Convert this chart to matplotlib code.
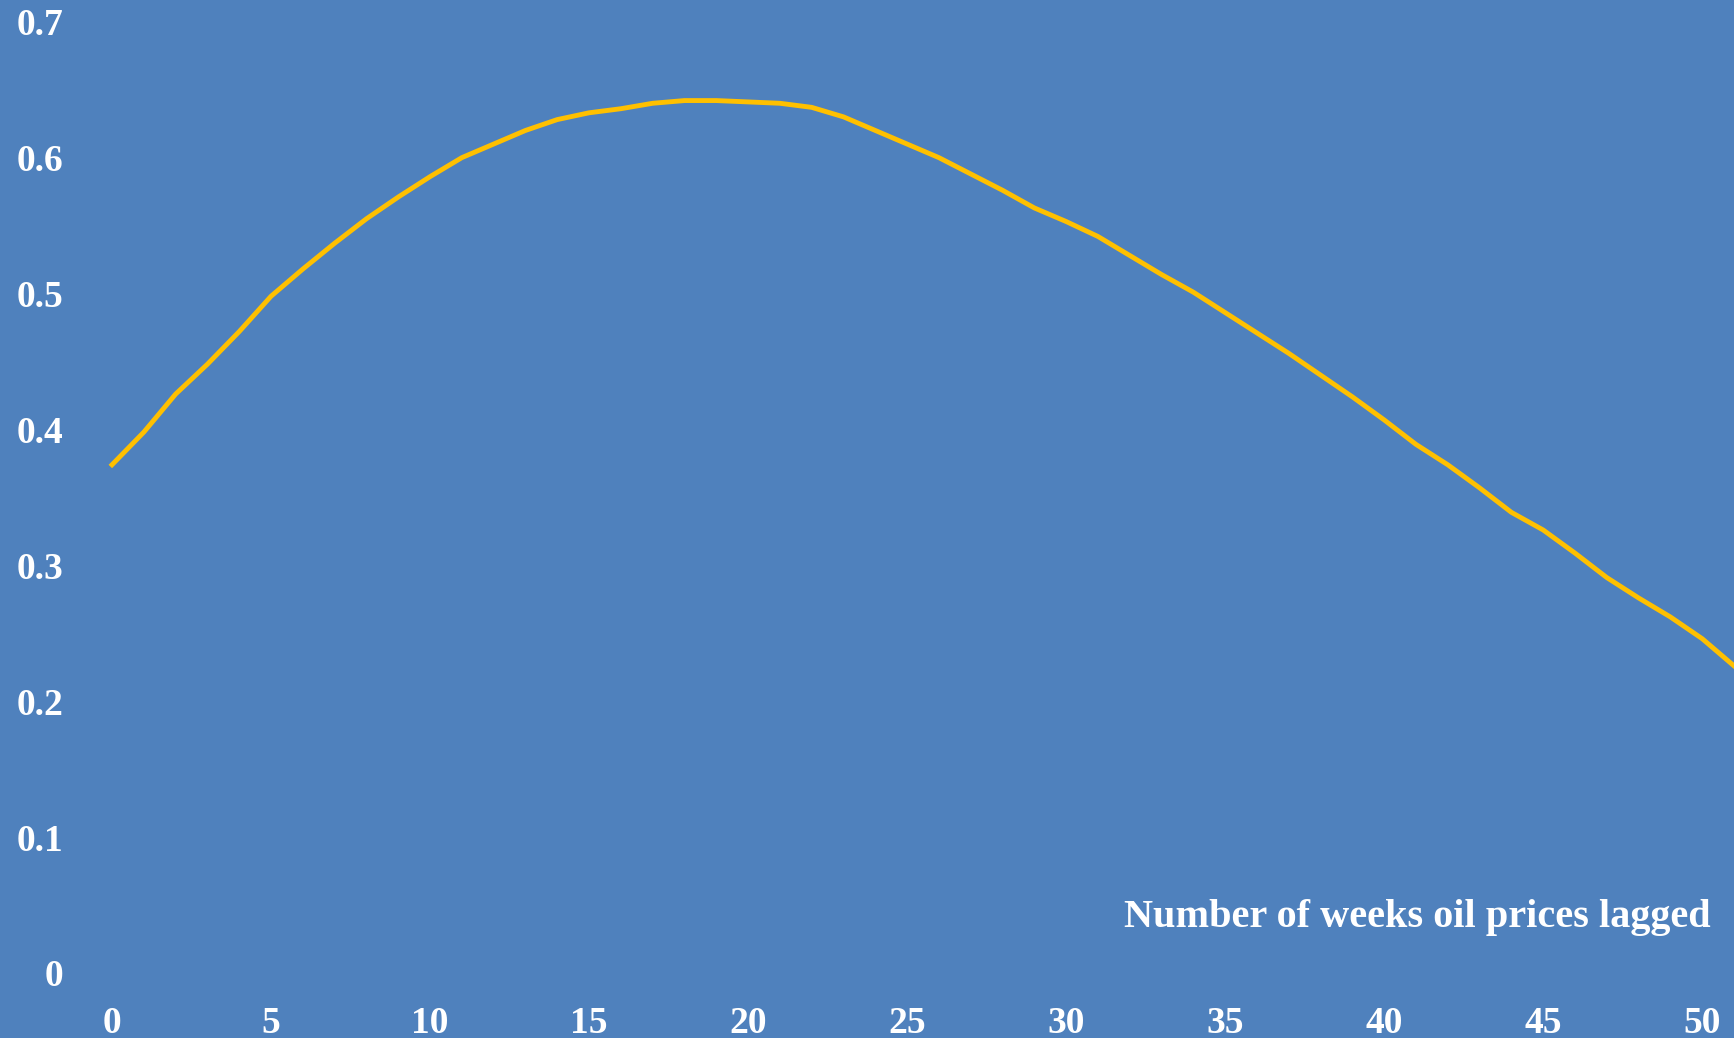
import matplotlib.pyplot as plt
import numpy as np

# weeks of lag vs correlation
weeks = list(range(0, 52))
corr = [0.374, 0.398, 0.426, 0.448, 0.472, 0.498, 0.518, 0.537, 0.555, 0.571,
        0.586, 0.600, 0.610, 0.620, 0.628, 0.633, 0.636, 0.640, 0.642, 0.642,
        0.641, 0.640, 0.637, 0.630, 0.620, 0.610, 0.600, 0.588, 0.576, 0.563,
        0.553, 0.542, 0.528, 0.514, 0.501, 0.486, 0.471, 0.456, 0.440, 0.424,
        0.407, 0.389, 0.374, 0.357, 0.339, 0.326, 0.309, 0.291, 0.276, 0.262,
        0.246, 0.226]
xticks = list(range(0, 51, 5))
yticks = [0, 0.1, 0.2, 0.3, 0.4, 0.5, 0.6, 0.7]
ytick_labels = ['0', '0.1', '0.2', '0.3', '0.4', '0.5', '0.6', '0.7']
xlabel = 'Number of weeks oil prices lagged'

bg = '#4F81BD'
plt.rcParams['font.family'] = ['Liberation Serif', 'DejaVu Serif']

W, H = 1734, 1038
fig = plt.figure(figsize=(W / 100, H / 100), dpi=100, facecolor=bg)
left_px, bottom_px = 70, 65
ax = fig.add_axes([left_px / W, bottom_px / H, 1 - left_px / W, 1 - bottom_px / H])
ax.set_facecolor(bg)

ax.plot(weeks, corr, color='#FFC000', lw=3.5, solid_joinstyle='round')

ax.set_xlim(-(112 - left_px) / 31.8, 51.0)
ax.set_ylim(0, 0.716)
ax.set_xticks(xticks)
ax.set_yticks(yticks)
ax.set_yticklabels(ytick_labels)
for s in ax.spines.values():
    s.set_visible(False)
ax.tick_params(length=0, colors='white', labelsize=27)
ax.tick_params(axis='x', pad=24)
ax.tick_params(axis='y', pad=5)
for lab in ax.get_xticklabels() + ax.get_yticklabels():
    lab.set_fontweight('bold')

ax.text(1711 / W, (H - 917) / H, xlabel, transform=fig.transFigure,
        ha='right', va='center', color='white', fontsize=29, fontweight='bold')

fig.savefig('out.png', dpi=100, facecolor=bg)
